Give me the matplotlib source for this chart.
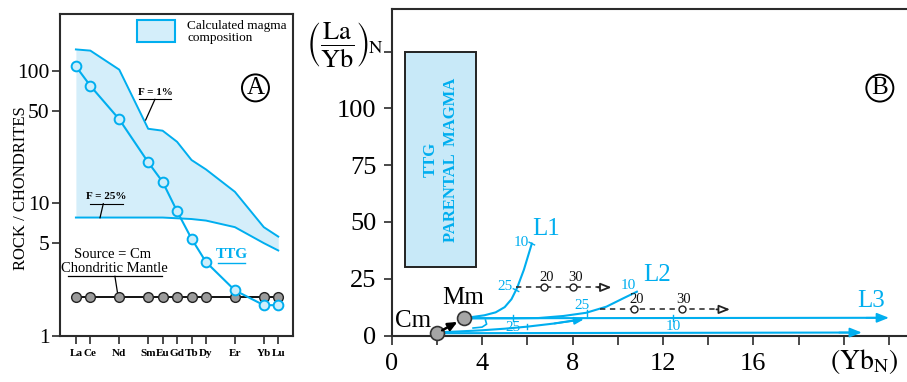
import matplotlib
matplotlib.use("Agg")
import matplotlib.pyplot as plt
from matplotlib.patches import Rectangle, FancyArrowPatch
from matplotlib.ticker import FixedLocator, FixedFormatter

plt.rcParams["font.family"] = ["Liberation Serif", "DejaVu Serif"]
plt.rcParams["mathtext.fontset"] = "stix"

# ---------------- Panel A: chondrite-normalised REE patterns ----------------
ree = ["La", "Ce", "Nd", "Sm", "Eu", "Gd", "Tb", "Dy", "Er", "Yb", "Lu"]
atomic_no = [57, 58, 60, 62, 63, 64, 65, 66, 68, 70, 71]
ttg = [108, 77, 43, 20.4, 14.5, 8.7, 5.4, 3.6, 2.2, 1.7, 1.7]
melt_f1 = [145, 142, 102, 36.5, 35.3, 29.1, 21.2, 18.0, 12.2, 6.6, 5.6]
melt_f25 = [7.8, 7.8, 7.8, 7.8, 7.8, 7.7, 7.6, 7.4, 6.6, 5.0, 4.4]
chondritic_mantle = [1.95] * 11
a_yticks = [1, 5, 10, 50, 100]

# ---------------- Panel B: (La/Yb)N versus YbN ----------------
cm_pt = (2.0, 1.0)
mm_pt = (3.2, 7.6)
ttg_box = (0.6, 3.75, 30, 125)  # YbN min/max, (La/Yb)N min/max

l1_yb = [3.2, 3.6, 4.1, 4.6, 5.0, 5.3, 5.55, 5.85, 6.2]
l1_lay = [7.6, 8.2, 8.9, 10.2, 12.5, 16.0, 21.0, 29.0, 40.5]
l2_yb = [3.2, 4.5, 5.5, 6.5, 7.6, 8.6, 9.5, 10.25, 10.85]
l2_lay = [7.6, 7.6, 7.6, 7.7, 8.6, 10.0, 12.7, 16.4, 19.3]
l3_yb = [3.2, 22.0]
l3_lay = [7.6, 7.8]
cm_low_yb = [2.0, 20.8]
cm_low_lay = [1.0, 1.3]
cm_rise_yb = [2.1, 3.0, 4.0, 5.0, 6.0, 7.2, 8.5]
cm_rise_lay = [1.4, 1.8, 2.3, 3.0, 3.9, 5.3, 7.1]
hook_yb = [3.6, 4.0, 4.2, 4.15]
hook_lay = [3.3, 3.7, 5.0, 6.8]

# melt-fraction markers (YbN, (La/Yb)N, label)
l1_marks = [(5.5, 20.0, "25"), (6.2, 40.5, "10")]
l2_marks = [(8.63, 10.0, "25"), (10.85, 19.3, "10")]
l3_marks = [(5.38, 7.6, "25"), (12.43, 7.7, "10")]

dash1_yb = [5.5, 9.73]
dash1_lay = [21.2, 21.2]
dash1_pts = [(6.75, "20"), (8.04, "30")]
dash2_yb = [9.22, 14.97]
dash2_lay = [11.5, 11.5]
dash2_pts = [(10.73, "20"), (12.83, "30")]

b_xticks = [0, 2, 4, 6, 8, 10, 12, 14, 16, 18, 20, 22]
b_xlabels = ["0", "", "4", "", "8", "", "12", "", "16", "", "", ""]
b_yticks = [0, 25, 50, 75, 100, 125]
b_ylabels = ["0", "25", "50", "75", "100", ""]

CYAN = "#00aeef"
FILL = "#d4eefa"
BOXFILL = "#c8e9f8"
SPINE = "#2b2b2b"

W, H = 907, 382
fig = plt.figure(figsize=(W / 100, H / 100), dpi=100)


def px_axes(l, t, r, b):
    return fig.add_axes([l / W, 1 - b / H, (r - l) / W, (b - t) / H])


# ======================= Panel A =======================
axA = px_axes(60, 14.3, 292.7, 335.7)
axA.set_yscale("log")
axA.set_xlim(55.9, 72.0)
axA.set_ylim(1, 267)

axA.fill_between(atomic_no, melt_f25, melt_f1, color=FILL, lw=0, zorder=1)
axA.plot(atomic_no, melt_f1, color=CYAN, lw=1.4, zorder=2)
axA.plot(atomic_no, melt_f25, color=CYAN, lw=1.4, zorder=2)
axA.plot(atomic_no, chondritic_mantle, color="black", lw=1.3, marker="o",
         ms=7, mfc="#9b9b9b", mec="#222222", mew=1.0, zorder=3)
axA.plot(atomic_no, ttg, color=CYAN, lw=1.5, marker="o", ms=7,
         mfc="#cdeefb", mec=CYAN, mew=1.4, zorder=4)

axA.xaxis.set_major_locator(FixedLocator(atomic_no))
axA.xaxis.set_major_formatter(FixedFormatter(ree))
axA.yaxis.set_major_locator(FixedLocator(a_yticks))
axA.yaxis.set_major_formatter(FixedFormatter([str(v) for v in a_yticks]))
axA.yaxis.set_minor_locator(FixedLocator([]))
axA.tick_params(axis="y", direction="out", length=6, width=1.2,
                labelsize=15.5, pad=1.5, colors=SPINE, labelcolor="black")
axA.tick_params(axis="x", direction="out", length=6, width=1.2,
                labelsize=8, pad=3.5, colors=SPINE, labelcolor="black")
for lab in axA.get_xticklabels():
    lab.set_fontweight("bold")
for sp in axA.spines.values():
    sp.set_color(SPINE)
    sp.set_linewidth(1.5)

fig.text(21 / W, 1 - 188 / H, "ROCK / CHONDRITES", rotation=90, fontsize=12,
         ha="center", va="center")

# legend swatch
axA.add_patch(Rectangle((0.330, 0.915), 0.164, 0.067, transform=axA.transAxes,
                        fc=FILL, ec=CYAN, lw=1.5, zorder=5))
axA.text(0.547, 0.945, "Calculated magma\ncomposition", transform=axA.transAxes,
         fontsize=9.5, ha="left", va="center", linespacing=0.95)

# circled panel letter
axA.text(0.840, 0.771, "A", transform=axA.transAxes, fontsize=18,
         ha="center", va="center",
         bbox=dict(boxstyle="circle,pad=0.1", fc="white", ec="black", lw=1.4))


def ann_line(ax, xs, ys, **kw):
    ax.plot(xs, ys, transform=ax.transAxes, clip_on=False, **kw)


# F = 1 %
axA.text(0.408, 0.757, "F = 1%", transform=axA.transAxes, fontsize=8,
         fontweight="bold", ha="center", va="center")
ann_line(axA, [0.339, 0.477], [0.7355, 0.7355], color="black", lw=0.8)
ann_line(axA, [0.408, 0.368], [0.7355, 0.671], color="black", lw=0.9)

# F = 25 %
axA.text(0.198, 0.434, "F = 25%", transform=axA.transAxes, fontsize=8,
         fontweight="bold", ha="center", va="center")
ann_line(axA, [0.129, 0.271], [0.4107, 0.4107], color="black", lw=0.8)
ann_line(axA, [0.186, 0.172], [0.4107, 0.367], color="black", lw=0.9)

# source label
axA.text(0.228, 0.253, "Source = Cm", transform=axA.transAxes, fontsize=10.5,
         ha="center", va="center")
axA.text(0.232, 0.209, "Chondritic Mantle", transform=axA.transAxes,
         fontsize=10.5, ha="center", va="center")
ann_line(axA, [0.034, 0.438], [0.1848, 0.1848], color="black", lw=0.9)
ann_line(axA, [0.236, 0.2505], [0.1848, 0.118], color="black", lw=0.9)

# TTG label
axA.text(0.739, 0.253, "TTG", transform=axA.transAxes, fontsize=11,
         fontweight="bold", color=CYAN, ha="center", va="center")
ann_line(axA, [0.679, 0.795], [0.2253, 0.2253], color=CYAN, lw=1.0)

# ======================= Panel B =======================
axB = px_axes(391.7, 9.3, 907, 335.5)
axB.set_xlim(0, (907 - 391.7) / 22.6)
axB.set_ylim(0, 143.7)
axB.spines["right"].set_visible(False)
for name in ("left", "top", "bottom"):
    axB.spines[name].set_color(SPINE)
    axB.spines[name].set_linewidth(1.5)
axB.xaxis.set_major_locator(FixedLocator(b_xticks))
axB.xaxis.set_major_formatter(FixedFormatter(b_xlabels))
axB.yaxis.set_major_locator(FixedLocator(b_yticks))
axB.yaxis.set_major_formatter(FixedFormatter(b_ylabels))
axB.tick_params(axis="x", direction="out", length=6.5, width=1.2,
                labelsize=19, pad=6, colors=SPINE, labelcolor="black")
axB.tick_params(axis="y", direction="out", length=6, width=1.2,
                labelsize=19, pad=5, colors=SPINE, labelcolor="black")

# TTG parental magma field
bx0, bx1, by0, by1 = ttg_box
axB.add_patch(Rectangle((bx0, by0), bx1 - bx0, by1 - by0, fc=BOXFILL,
                        ec="#222222", lw=1.4, zorder=1))
axB.text((bx0 + bx1) / 2, (by0 + by1) / 2, "TTG\nPARENTAL  MAGMA",
         rotation=90, ha="center", va="center", multialignment="center",
         color=CYAN, fontweight="bold", fontsize=12, linespacing=1.3)

LW = 1.5
axB.plot(l1_yb, l1_lay, color=CYAN, lw=LW, zorder=3)
axB.plot(l2_yb, l2_lay, color=CYAN, lw=LW, zorder=3)
axB.plot(l3_yb[:-1] + [l3_yb[-1] - 0.4], l3_lay[:-1] + [l3_lay[-1]],
         color=CYAN, lw=LW, zorder=3)
axB.plot(cm_low_yb[:-1] + [cm_low_yb[-1] - 0.4], cm_low_lay, color=CYAN,
         lw=LW, zorder=3)
axB.plot(cm_rise_yb[:-1] + [cm_rise_yb[-1] - 0.3], cm_rise_lay[:-1] +
         [cm_rise_lay[-1] - 0.25], color=CYAN, lw=LW, zorder=3)
axB.plot(hook_yb, hook_lay, color=CYAN, lw=1.2, zorder=3)


def head(ax, tail, tip, fc, ec, size=13):
    ax.annotate("", xy=tip, xytext=tail,
                arrowprops=dict(arrowstyle="-|>,head_length=0.55,head_width=0.22",
                                fc=fc, ec=ec, lw=1.3, mutation_scale=size,
                                shrinkA=0, shrinkB=0), zorder=4)


head(axB, (l3_yb[-1] - 1.0, l3_lay[-1]), (l3_yb[-1], l3_lay[-1]), CYAN, CYAN)
head(axB, (cm_low_yb[-1] - 1.0, cm_low_lay[-1]), (cm_low_yb[-1], cm_low_lay[-1]),
     CYAN, CYAN)
head(axB, (cm_rise_yb[-2], cm_rise_lay[-2]), (cm_rise_yb[-1], cm_rise_lay[-1]),
     CYAN, CYAN, size=10)

# melt-fraction ticks and labels
for (x, y, t) in l1_marks:
    axB.plot([x - 0.12, x + 0.12], [y + 0.6, y - 0.6], color=CYAN, lw=1.0)
axB.text(l1_marks[0][0] - 0.5, l1_marks[0][1] + 1.8, "25", color=CYAN,
         fontsize=11, ha="center", va="center")
axB.text(l1_marks[1][0] - 0.45, l1_marks[1][1] + 0.5, "10", color=CYAN,
         fontsize=11, ha="center", va="center")
for (x, y, t) in l2_marks[:1]:
    axB.plot([x, x], [y - 1.3, y + 1.3], color=CYAN, lw=1.0)
axB.text(l2_marks[0][0] - 0.2, l2_marks[0][1] + 3.4, "25", color=CYAN,
         fontsize=11, ha="center", va="center")
axB.text(l2_marks[1][0] - 0.4, l2_marks[1][1] + 2.9, "10", color=CYAN,
         fontsize=11, ha="center", va="center")
for (x, y, t) in l3_marks:
    axB.plot([x, x], [y - 1.4, y + 1.4], color=CYAN, lw=1.0)
axB.text(l3_marks[0][0], l3_marks[0][1] - 4.2, "25", color=CYAN,
         fontsize=11, ha="center", va="center")
axB.text(l3_marks[1][0] + 0.05, l3_marks[1][1] - 3.8, "10", color=CYAN,
         fontsize=11, ha="center", va="center")
axB.plot([6.0, 6.0], [3.9 - 1.2, 3.9 + 1.2], color=CYAN, lw=1.0)

# dashed trends with open circles
for xs, ys, pts in ((dash1_yb, dash1_lay, dash1_pts),
                    (dash2_yb, dash2_lay, dash2_pts)):
    axB.plot([xs[0], xs[1] - 0.35], ys, color="#222222", lw=1.1,
             ls=(0, (3.5, 3)), zorder=3)
    head(axB, (xs[1] - 0.6, ys[1]), (xs[1], ys[1]), "white", "#222222", size=12)
    for (x, t) in pts:
        axB.plot([x], [ys[0]], marker="o", ms=5, mfc="white", mec="#222222",
                 mew=1.0, zorder=4)
        axB.text(x + 0.1, ys[0] + 4.3, t, fontsize=10.5, ha="center",
                 va="center", color="#111111")

# source points and the Cm -> Mm arrow (ends set just outside the markers)
cm_disp = axB.transData.transform(cm_pt)
mm_disp = axB.transData.transform(mm_pt)
vec = mm_disp - cm_disp
unit = vec / (vec ** 2).sum() ** 0.5
start = axB.transData.inverted().transform(cm_disp + unit * 6)
end = axB.transData.inverted().transform(mm_disp - unit * 7.5)
axB.add_patch(FancyArrowPatch(start, end,
                              arrowstyle="-|>,head_length=0.45,head_width=0.2",
                              mutation_scale=12, lw=1.8, color="black",
                              shrinkA=0, shrinkB=0, zorder=7))
axB.plot(*cm_pt, marker="o", ms=10, mfc="#a6a6a6", mec="#333333", mew=1.2,
         zorder=6, clip_on=False)
axB.plot(*mm_pt, marker="o", ms=10, mfc="#a6a6a6", mec="#333333", mew=1.2,
         zorder=6)
axB.text(0.93, 6.6, "Cm", fontsize=18, ha="center", va="center")
axB.text(3.15, 16.5, "Mm", fontsize=18, ha="center", va="center")

# trend names
axB.text(6.85, 46.8, "L1", fontsize=18, color=CYAN, ha="center", va="center")
axB.text(11.75, 26.7, "L2", fontsize=18, color=CYAN, ha="center", va="center")
axB.text(21.2, 15.0, "L3", fontsize=18, color=CYAN, ha="center", va="center")

axB.text(21.6, 109, "B", fontsize=18, ha="center", va="center",
         bbox=dict(boxstyle="circle,pad=0.1", fc="white", ec="black", lw=1.4))

# axis titles
fig.text(345 / W, 1 - 45 / H,
         r"$\left(\dfrac{\mathrm{La}}{\mathrm{Yb}}\right)_{\!\mathrm{N}}$",
         fontsize=19, ha="center", va="center")
fig.text(864 / W, 1 - 362 / H, r"$(\mathrm{Yb}_{\mathrm{N}})$", fontsize=20,
         ha="center", va="center")

fig.savefig("out.png", dpi=100)
